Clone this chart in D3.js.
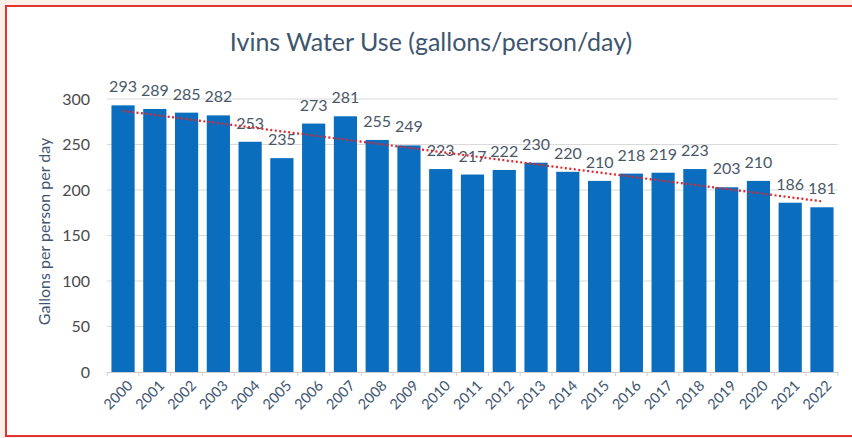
<!DOCTYPE html>
<html>
<head>
<meta charset="utf-8">
<script src="https://cdn.jsdelivr.net/npm/d3@7"></script>
<style>
  body { margin: 0; background: #fcf1e8; }
  svg { display: block; font-family: Lato, "Open Sans", sans-serif; }
</style>
</head>
<body>
<script>
// data
const years = ["2000", "2001", "2002", "2003", "2004", "2005", "2006", "2007", "2008", "2009", "2010",
  "2011", "2012", "2013", "2014", "2015", "2016", "2017", "2018", "2019", "2020", "2021", "2022"];
const gallons = [293, 289, 285, 282, 253, 235, 273, 281, 255, 249, 223,
  217, 222, 230, 220, 210, 218, 219, 223, 203, 210, 186, 181];
const yTicks = [0, 50, 100, 150, 200, 250, 300];

const W = 852, H = 438;
const margin = { top: 99, left: 107, bottom: 66, right: 14 };
const width = W - margin.left - margin.right;
const height = H - margin.top - margin.bottom;

const svg = d3.select("body").append("svg")
  .attr("width", W)
  .attr("height", H);

// white panel with the red frame
svg.append("rect")
  .attr("x", 6).attr("y", 6)
  .attr("width", W + 10).attr("height", 430)
  .attr("fill", "#fff")
  .attr("stroke", "#e23434")
  .attr("stroke-width", 2);

svg.append("text")
  .attr("x", 431).attr("y", 51)
  .attr("text-anchor", "middle")
  .attr("fill", "#3e5670")
  .style("font-size", "25px")
  .text("Ivins Water Use (gallons/person/day)");

const g = svg.append("g")
  .attr("transform", `translate(${margin.left}, ${margin.top})`);

const x = d3.scaleBand()
  .domain(years)
  .range([0, width])
  .paddingInner(0.27)
  .paddingOuter(0.14);

const y = d3.scaleLinear()
  .domain([0, 300])
  .range([height, 0]);

// gridlines
g.append("g")
  .selectAll("line")
  .data(yTicks.filter(d => d > 0))
  .enter().append("line")
  .attr("x1", 0).attr("x2", width)
  .attr("y1", d => y(d)).attr("y2", d => y(d))
  .attr("stroke", "#dadada")
  .attr("stroke-width", 1);

// y axis labels
g.append("g")
  .selectAll("text")
  .data(yTicks)
  .enter().append("text")
  .attr("x", -17)
  .attr("y", d => y(d))
  .attr("dy", "0.35em")
  .attr("text-anchor", "end")
  .attr("fill", "#4b4b4b")
  .style("font-size", "16px")
  .text(d => d);

g.append("text")
  .attr("transform", "rotate(-90)")
  .attr("x", -(height / 2) + 4)
  .attr("y", -57)
  .attr("text-anchor", "middle")
  .attr("fill", "#3e5670")
  .style("font-size", "16px")
  .text("Gallons per person per day");

// bars
g.selectAll("rect.bar")
  .data(gallons)
  .enter().append("rect")
  .attr("class", "bar")
  .attr("x", (d, i) => x(years[i]))
  .attr("y", d => y(d))
  .attr("width", x.bandwidth())
  .attr("height", d => height - y(d))
  .attr("fill", "#0b6dbd");

// x axis line + ticks
const xAxis = g.append("g")
  .attr("transform", `translate(0, ${height})`)
  .call(d3.axisBottom(x).tickSize(0).tickFormat(""));
xAxis.select(".domain").attr("stroke", "#cfcfcf");
g.append("g")
  .selectAll("line")
  .data(d3.range(years.length + 1))
  .enter().append("line")
  .attr("x1", i => i * x.step() + x.step() * (x.paddingOuter() - x.paddingInner() / 2))
  .attr("x2", i => i * x.step() + x.step() * (x.paddingOuter() - x.paddingInner() / 2))
  .attr("y1", height).attr("y2", height + 4)
  .attr("stroke", "#cfcfcf");

// year labels
g.append("g")
  .selectAll("text")
  .data(years)
  .enter().append("text")
  .attr("transform", d => `translate(${x(d) + x.bandwidth() / 2 + 7}, ${height + 11}) rotate(-45)`)
  .attr("text-anchor", "end")
  .attr("dy", "0.35em")
  .attr("fill", "#3e5670")
  .style("font-size", "14.5px")
  .text(d => d);

// value labels
g.append("g")
  .selectAll("text")
  .data(gallons)
  .enter().append("text")
  .attr("x", (d, i) => x(years[i]) + x.bandwidth() / 2)
  .attr("y", d => y(d) - 13)
  .attr("text-anchor", "middle")
  .attr("fill", "#4a5868")
  .style("font-size", "16px")
  .text(d => d);

// linear trendline (least squares on the bar values)
const idx = d3.range(gallons.length);
const mx = d3.mean(idx), my = d3.mean(gallons);
const slope = d3.sum(idx, i => (i - mx) * (gallons[i] - my)) / d3.sum(idx, i => (i - mx) * (i - mx));
const icpt = my - slope * mx;
const trend = d3.line()
  .x(i => x(years[i]) + x.bandwidth() / 2)
  .y(i => y(icpt + slope * i));
g.append("path")
  .datum([0, gallons.length - 1])
  .attr("d", trend)
  .attr("fill", "none")
  .attr("stroke", "#e0262b")
  .attr("stroke-width", 2.2)
  .attr("stroke-dasharray", "2,2.5");
</script>
</body>
</html>
